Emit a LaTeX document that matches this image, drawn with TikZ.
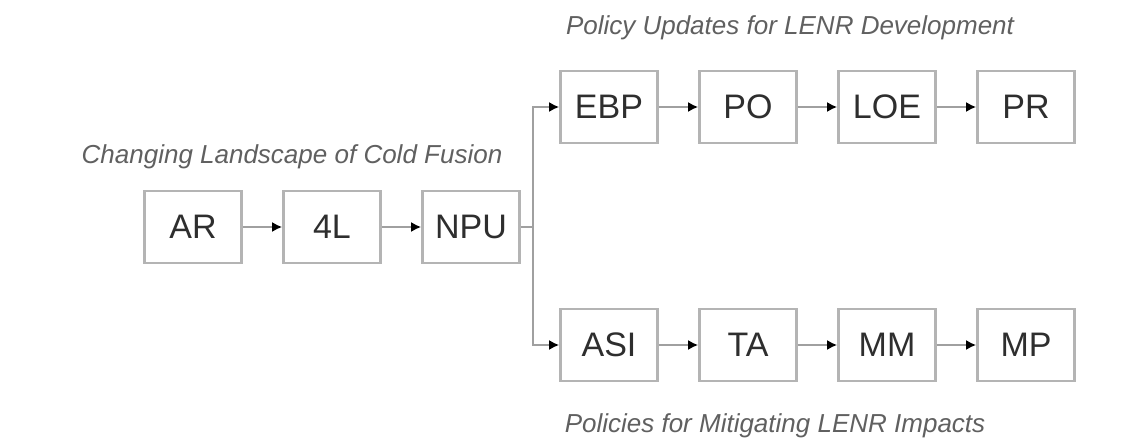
\documentclass[tikz,border=0pt]{standalone}
\usepackage{fontspec}
\setmainfont{Liberation Sans}
\usetikzlibrary{arrows.meta}
\definecolor{boxline}{HTML}{B4B4B4}
\definecolor{conline}{HTML}{A0A0A0}
\definecolor{labeltext}{HTML}{2E2E2E}
\definecolor{titletext}{HTML}{606060}
\tikzset{
  stepbox/.style={draw=boxline, line width=2.6pt, minimum width=97pt, minimum height=72pt,
    inner sep=0pt, font=\fontsize{34}{36}\selectfont, text=labeltext, fill=white},
  grouptitle/.style={font=\itshape\fontsize{26}{28}\selectfont, text=titletext, inner sep=0pt},
  conn/.style={draw=conline, line width=2.4pt, -{Latex[length=10pt,width=10pt,color=black]}},
  plain/.style={draw=conline, line width=2.4pt}
}
\begin{document}
\begin{tikzpicture}[x=1pt,y=-1pt]
\useasboundingbox (0,0) rectangle (1140,439);
% left row
\node[stepbox] (AR)  at (193,227) {AR};
\node[stepbox] (L4)  at (332,227) {4L};
\node[stepbox] (NPU) at (471,227) {NPU};
% top row
\node[stepbox] (EBP) at (609,107) {EBP};
\node[stepbox] (PO)  at (748,107) {PO};
\node[stepbox] (LOE) at (887,107) {LOE};
\node[stepbox] (PR)  at (1026,107) {PR};
% bottom row
\node[stepbox] (ASI) at (609,345) {ASI};
\node[stepbox] (TA)  at (748,345) {TA};
\node[stepbox] (MM)  at (887,345) {MM};
\node[stepbox] (MP)  at (1026,345) {MP};
% titles
\node[grouptitle] (t1) at (790,28) {Policy Updates for LENR Development};
\node[grouptitle] (t2) at (292,157) {Changing Landscape of Cold Fusion};
\node[grouptitle] (t3) at (775,426) {Policies for Mitigating LENR Impacts};
% connectors
\coordinate (split) at (533,227);
\draw[conn] (AR) -- (L4);
\draw[conn] (L4) -- (NPU);
\draw[plain] (NPU.east) -- (split);
\draw[conn] (split) |- (EBP.west);
\draw[conn] (split) |- (ASI.west);
\draw[conn] (EBP) -- (PO);
\draw[conn] (PO) -- (LOE);
\draw[conn] (LOE) -- (PR);
\draw[conn] (ASI) -- (TA);
\draw[conn] (TA) -- (MM);
\draw[conn] (MM) -- (MP);
\end{tikzpicture}
\end{document}
